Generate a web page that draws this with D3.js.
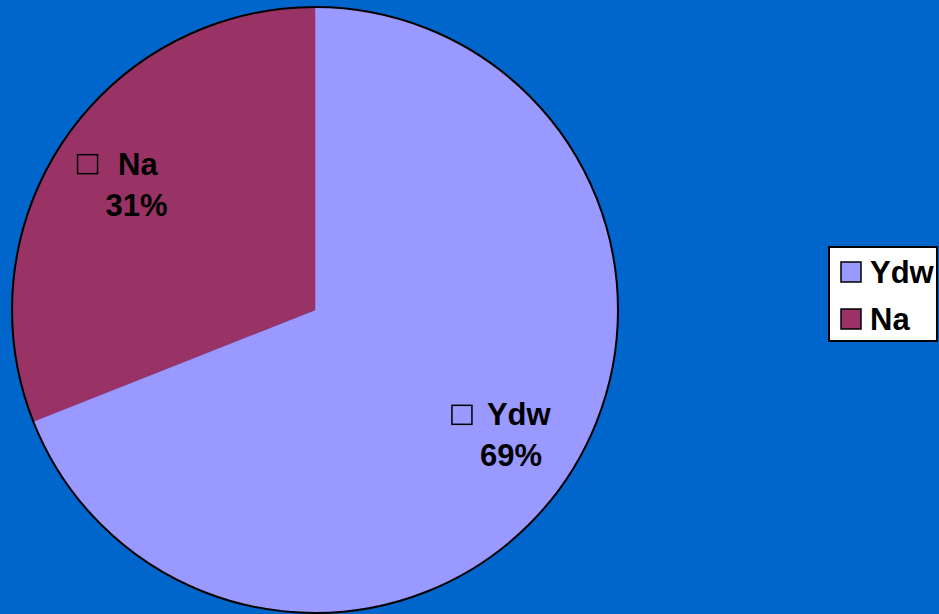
<!DOCTYPE html>
<html>
<head>
<meta charset="utf-8">
<script src="https://cdn.jsdelivr.net/npm/d3@7"></script>
<style>
  html, body { margin: 0; padding: 0; background: #0066cc; }
  svg { display: block; }
</style>
</head>
<body>
<svg id="chart"></svg>
<script>
// data
const categories = ["Ydw", "Na"];
const values = [69, 31];
const colors = ["#9999ff", "#993366"];

const width = 939, height = 614;
const svg = d3.select("#chart").attr("width", width).attr("height", height);

svg.append("rect").attr("width", width).attr("height", height).attr("fill", "#0066cc");

const cx = 315, cy = 310, r = 303;
const font = "'Liberation Sans', Arial, sans-serif";
const fs = 31;

const pie = d3.pie().sort(null).value(d => d.v);
const arcs = pie(categories.map((c, i) => ({c: c, v: values[i], col: colors[i]})));

const arc = d3.arc().innerRadius(0).outerRadius(r);

const g = svg.append("g").attr("transform", "translate(" + cx + "," + cy + ")");

g.selectAll("path.slice")
  .data(arcs)
  .join("path")
  .attr("class", "slice")
  .attr("d", arc)
  .attr("fill", d => d.data.col)
  .attr("stroke", d => d.data.col)
  .attr("stroke-width", 0.5);

// outline
g.append("circle").attr("r", r).attr("fill", "none").attr("stroke", "#000").attr("stroke-width", 2);

// labels - excel nudges them a bit per slice
const labelArc = d3.arc().innerRadius(0.73 * r).outerRadius(0.73 * r);
const nudge = [[13, 2], [4.5, 0]];
const nameX = [-24, -18.5];
const fmt = d3.format(".0%");
const total = d3.sum(values);

const lab = g.selectAll("g.lab")
  .data(arcs)
  .join("g")
  .attr("class", "lab")
  .attr("transform", (d, i) => {
    const c = labelArc.centroid(d);
    return "translate(" + (c[0] + nudge[i][0]) + "," + (c[1] + nudge[i][1]) + ")";
  });

// percent line
lab.append("text")
  .attr("text-anchor", "middle")
  .attr("y", 30)
  .attr("font-family", font)
  .attr("font-weight", "bold")
  .attr("font-size", fs)
  .attr("fill", "#000")
  .text(d => fmt(d.data.v / total));

// name line with the little square bullet
lab.append("rect")
  .attr("x", -59)
  .attr("y", -31)
  .attr("width", 20)
  .attr("height", 19)
  .attr("fill", "none")
  .attr("stroke", "#000")
  .attr("stroke-width", 1.5);

lab.append("text")
  .attr("x", (d, i) => nameX[i])
  .attr("y", -11)
  .attr("font-family", font)
  .attr("font-weight", "bold")
  .attr("font-size", fs)
  .attr("fill", "#000")
  .text(d => d.data.c);

// legend
const lg = svg.append("g").attr("transform", "translate(829,247)");
lg.append("rect").attr("width", 108).attr("height", 94)
  .attr("fill", "#fff").attr("stroke", "#000").attr("stroke-width", 2);

const item = lg.selectAll("g.item")
  .data(categories)
  .join("g")
  .attr("class", "item")
  .attr("transform", (d, i) => "translate(12," + (15 + i * 47) + ")");

item.append("rect")
  .attr("width", 20).attr("height", 20)
  .attr("fill", (d, i) => colors[i])
  .attr("stroke", "#000").attr("stroke-width", 1.5);

item.append("text")
  .attr("x", 29)
  .attr("y", 21)
  .attr("font-family", font)
  .attr("font-weight", "bold")
  .attr("font-size", fs)
  .attr("fill", "#000")
  .text(d => d);
</script>
</body>
</html>
